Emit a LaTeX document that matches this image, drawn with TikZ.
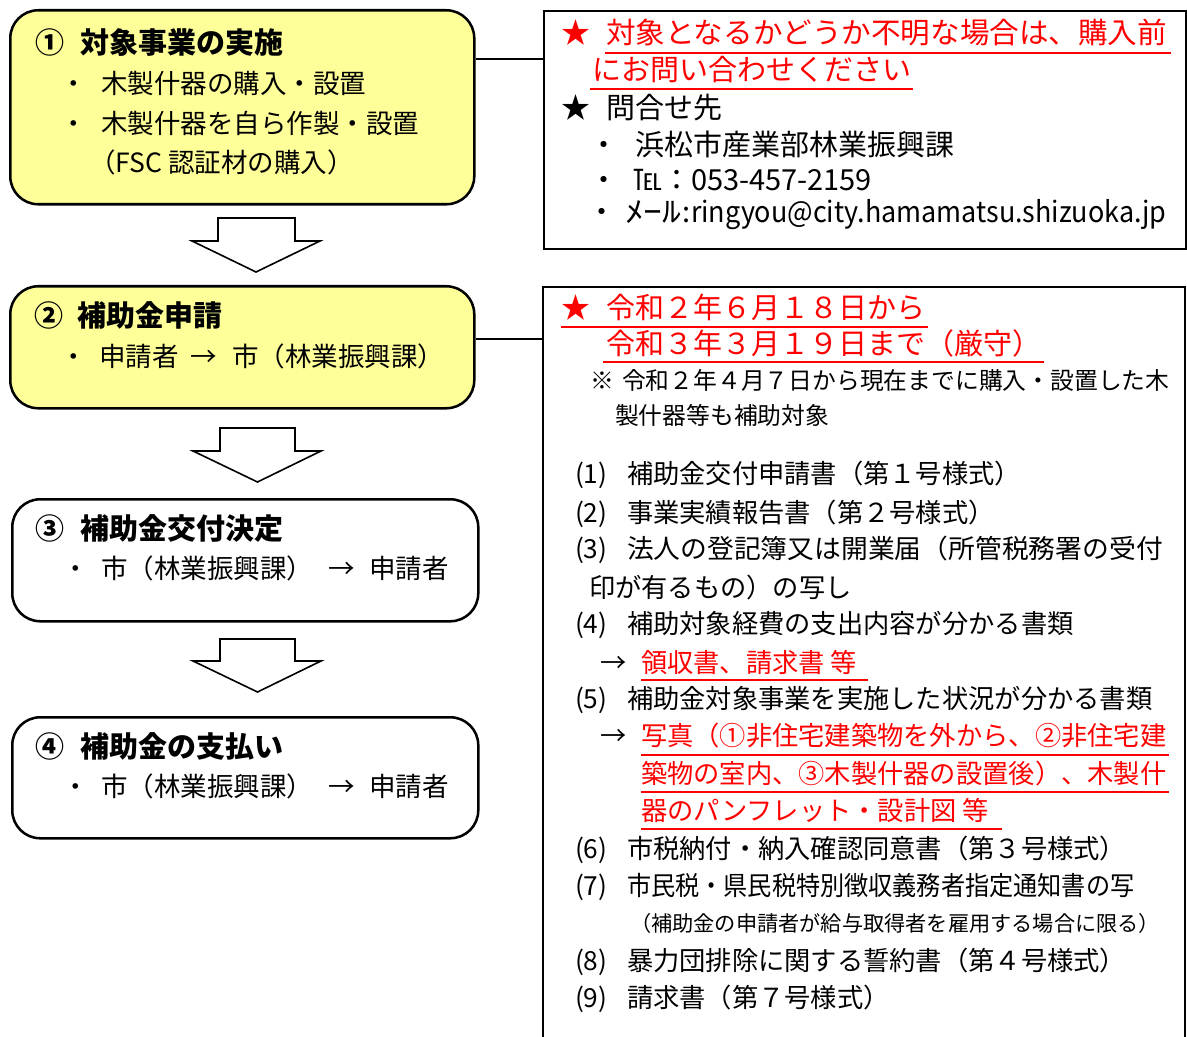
\documentclass[tikz,border=0pt]{standalone}
\usepackage{fontspec}
\setmainfont{Noto Sans CJK JP}
\usepackage{graphicx}
\definecolor{boxyellow}{HTML}{FFFF99}
\definecolor{redtxt}{HTML}{FF0000}
\newcommand\fsTitle{\fontsize{21.75}{26}\selectfont\bfseries}
\newcommand\fsBody{\fontsize{19.9}{24}\selectfont}
\newcommand\fsItem{\fontsize{19.7}{24}\selectfont}
\newcommand\fsInfo{\fontsize{21.75}{26}\selectfont}
\newcommand\fsSmall{\fontsize{17.85}{22}\selectfont}
\newcommand\fsTiny{\fontsize{15.9}{19}\selectfont}
\begin{document}
\begin{tikzpicture}[x=0.75pt,y=-0.75pt,
  tx/.style={anchor=base west, inner sep=0pt, outer sep=0pt},
  bul/.style={anchor=base, inner sep=0pt, outer sep=0pt},
  flow/.style={draw=black, line width=1.9pt, rounded corners=21pt, anchor=north west, inner sep=0pt},
  infobox/.style={draw=black, line width=1.3pt, anchor=north west, inner sep=0pt},
  conn/.style={draw=black, line width=1.2pt},
  blockarrow/.style={draw=black, line width=1.2pt, fill=white, line join=miter},
  uline/.style={draw=redtxt, line width=1.6pt},
  rd/.style={text=redtxt}]
\useasboundingbox[fill=white] (0,0) rectangle (1187,1037);

% ---------- flow boxes ----------
\node[flow, fill=boxyellow, minimum width=348pt, minimum height=145.5pt] (box1) at (9,9) {};
\node[flow, fill=boxyellow, minimum width=348pt, minimum height=91.5pt] (box2) at (9,285) {};
\node[flow, fill=white, minimum width=349.5pt, minimum height=91.5pt] (box3) at (11,498) {};
\node[flow, fill=white, minimum width=349.5pt, minimum height=90.75pt] (box4) at (11,716) {};

% ---------- block arrows ----------
\draw[blockarrow] (218,218) -- (295,218) -- (295,241) -- (320,241) -- (256,272) -- (192,241) -- (218,241) -- cycle;
\draw[blockarrow] (220,428) -- (295,428) -- (295,451) -- (321,451) -- (257.5,482) -- (193,451) -- (220,451) -- cycle;
\draw[blockarrow] (220,639) -- (295,639) -- (295,661) -- (321,661) -- (257.5,692) -- (193,661) -- (220,661) -- cycle;

% ---------- info boxes ----------
\node[infobox, minimum width=481.5pt, minimum height=178.5pt] (info1) at (543,10) {};
\draw[draw=black, line width=1.3pt] (543,1040) -- (543,287) -- (1185,287) -- (1185,1040);
\coordinate (i1c) at (543,59);
\coordinate (i2c) at (543,339);
\draw[conn] (box1.east |- i1c) -- (i1c);
\draw[conn] (box2.east |- i2c) -- (i2c);

% ---------- box 1 text ----------
\node[tx, font=\fsTitle] (b1n) at (36,54) {①};
\node[tx, font=\fsTitle] (b1t) at (80,54) {対象事業の実施};
\node[bul, font=\fsBody] (b1d1) at (74,94) {・};
\node[tx, font=\fsBody] (b1l1) at (101,94) {木製什器の購入・設置};
\node[bul, font=\fsBody] (b1d2) at (74,134) {・};
\node[tx, font=\fsBody] (b1l2) at (101,134) {木製什器を自ら作製・設置};
\node[tx, font=\fsBody] (b1l3) at (89,173) {（FSC 認証材の購入）};

% ---------- box 2 text ----------
\node[tx, font=\fsTitle] (b2n) at (34,326) {②};
\node[tx, font=\fsTitle] (b2t) at (77,326) {補助金申請};
\node[bul, font=\fsBody] (b2d) at (74,366) {・};
\node[tx, font=\fsBody] (b2a) at (99,366) {申請者};
\node[tx, font=\fsBody] (b2r) at (190,366) {→};
\node[tx, font=\fsBody] (b2b) at (232,366) {市（林業振興課）};

% ---------- box 3 text ----------
\node[tx, font=\fsTitle] (b3n) at (36,539) {③};
\node[tx, font=\fsTitle] (b3t) at (80,539) {補助金交付決定};
\node[bul, font=\fsBody] (b3d) at (76,578) {・};
\node[tx, font=\fsBody] (b3a) at (101,578) {市（林業振興課）};
\node[tx, font=\fsBody] (b3r) at (328,578) {→};
\node[tx, font=\fsBody] (b3b) at (369,578) {申請者};

% ---------- box 4 text ----------
\node[tx, font=\fsTitle] (b4n) at (36,757) {④};
\node[tx, font=\fsTitle] (b4t) at (80,757) {補助金の支払い};
\node[bul, font=\fsBody] (b4d) at (76,796) {・};
\node[tx, font=\fsBody] (b4a) at (101,796) {市（林業振興課）};
\node[tx, font=\fsBody] (b4r) at (328,796) {→};
\node[tx, font=\fsBody] (b4b) at (369,796) {申請者};

% ---------- info 1 text ----------
\node[bul, font=\fsInfo, rd] (i1s1) at (576,44) {★};
\node[tx, font=\fsInfo, rd] (i1l1) at (606,44) {\scalebox{1.02}[1]{対象となるかどうか不明な場合は、購入前}};
\draw[uline] (605,53) -- (1171,53);
\node[tx, font=\fsInfo, rd] (i1l2) at (592,81) {にお問い合わせください};
\draw[uline] (590,89) -- (913,89);
\node[bul, font=\fsInfo] (i1s2) at (576,119) {★};
\node[tx, font=\fsInfo] (i1l3) at (606,119) {問合せ先};
\node[bul, font=\fsInfo] (i1d1) at (604,156) {・};
\node[tx, font=\fsInfo] (i1l4) at (635,156) {浜松市産業部林業振興課};
\node[bul, font=\fsInfo] (i1d2) at (604,191) {・};
\node[tx, font=\fsInfo] (i1l5) at (633,191) {℡：053-457-2159};
\node[bul, font=\fsInfo] (i1d3) at (602,223) {・};
\node[tx, font=\fsInfo] (i1l6a) at (625,223) {\scalebox{1.3}[1]{ﾒｰﾙ}};
\node[tx, font=\fsInfo] (i1l6b) at (682,223) {:};
\node[tx, font=\fsInfo] (i1l6c) at (691,223) {\scalebox{0.93}[1]{ringyou@city.hamamatsu.shizuoka.jp}};

% ---------- info 2 text ----------
\node[bul, font=\fsInfo, rd] (i2s1) at (576,318) {★};
\node[tx, font=\fsInfo, rd] (i2l1) at (606,318) {令和２年６月１８日から};
\draw[uline] (561,327) -- (928,327);
\node[tx, font=\fsInfo, rd] (i2l2) at (606,354) {令和３年３月１９日まで（厳守）};
\draw[uline] (603,362) -- (1044,362);
\node[tx, font=\fsSmall] (i2k) at (590,389) {※};
\node[tx, font=\fsSmall] (i2l3) at (622,389) {令和２年４月７日から現在までに購入・設置した木};
\node[tx, font=\fsSmall] (i2l4) at (615,424) {製什器等も補助対象};

\node[tx, font=\fsItem] (n1) at (575,483) {(1)};
\node[tx, font=\fsItem] (m1) at (627,483) {補助金交付申請書（第１号様式）};
\node[tx, font=\fsItem] (n2) at (575,522) {(2)};
\node[tx, font=\fsItem] (m2) at (627,522) {事業実績報告書（第２号様式）};
\node[tx, font=\fsItem] (n3) at (575,558) {(3)};
\node[tx, font=\fsItem] (m3) at (627,558) {\scalebox{1.02}[1]{法人の登記簿又は開業届（所管税務署の受付}};
\node[tx, font=\fsItem] (m3b) at (589,597) {印が有るもの）の写し};
\node[tx, font=\fsItem] (n4) at (575,633) {(4)};
\node[tx, font=\fsItem] (m4) at (627,633) {補助対象経費の支出内容が分かる書類};
\node[tx, font=\fsItem] (a4) at (600,672) {→};
\node[tx, font=\fsItem, rd] (r4) at (641,672) {領収書、請求書 等};
\draw[uline] (641,680) -- (868,680);
\node[tx, font=\fsItem] (n5) at (575,708) {(5)};
\node[tx, font=\fsItem] (m5) at (627,708) {補助金対象事業を実施した状況が分かる書類};
\node[tx, font=\fsItem] (a5) at (600,745) {→};
\node[tx, font=\fsItem, rd] (r5a) at (641,745) {写真（①非住宅建築物を外から、②非住宅建};
\draw[uline] (641,755) -- (1169,755);
\node[tx, font=\fsItem, rd] (r5b) at (641,783) {築物の室内、③木製什器の設置後）、木製什};
\draw[uline] (641,792) -- (1169,792);
\node[tx, font=\fsItem, rd] (r5c) at (641,820) {器のパンフレット・設計図 等};
\draw[uline] (641,829) -- (1002,829);
\node[tx, font=\fsItem] (n6) at (575,858) {(6)};
\node[tx, font=\fsItem] (m6) at (627,858) {市税納付・納入確認同意書（第３号様式）};
\node[tx, font=\fsItem] (n7) at (575,895) {(7)};
\node[tx, font=\fsItem] (m7) at (627,895) {\scalebox{0.92}[1]{市民税・県民税特別徴収義務者指定通知書の写}};
\node[tx, font=\fsTiny] (m7b) at (630,931) {（補助金の申請者が給与取得者を雇用する場合に限る）};
\node[tx, font=\fsItem] (n8) at (575,970) {(8)};
\node[tx, font=\fsItem] (m8) at (627,970) {暴力団排除に関する誓約書（第４号様式）};
\node[tx, font=\fsItem] (n9) at (575,1007) {(9)};
\node[tx, font=\fsItem] (m9) at (627,1007) {請求書（第７号様式）};
\end{tikzpicture}
\end{document}
